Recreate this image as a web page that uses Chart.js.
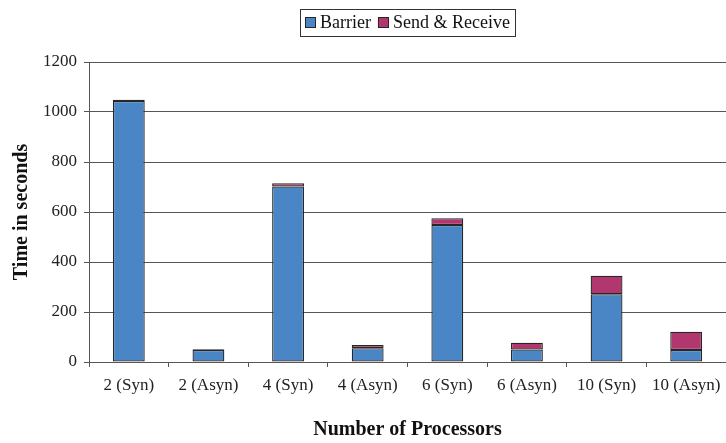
<!DOCTYPE html>
<html>
<head>
<meta charset="utf-8">
<script src="https://cdn.jsdelivr.net/npm/chart.js@4/dist/chart.umd.min.js"></script>
<style>
  html, body { margin: 0; padding: 0; background: #fff; }
  #c { display: block; }
</style>
</head>
<body>
<canvas id="c" width="726" height="443"></canvas>
<script>
// Run time per configuration, split into barrier wait and message passing
const categories = ['2 (Syn)', '2 (Asyn)', '4 (Syn)', '4 (Asyn)', '6 (Syn)', '6 (Asyn)', '10 (Syn)', '10 (Asyn)'];
const barrier = [1044, 48, 702, 55, 548, 50, 271, 48];
const sendReceive = [5, 3, 13, 13, 27, 27, 74, 73];
const yMin = 0, yMax = 1200, yStep = 200;

const SERIF = '"Liberation Serif", "Times New Roman", serif';
const LINE = '#555';
const EDGE = '#262626';

// Legend drawn inside a framed box, centred over the plot
const boxedLegend = {
  id: 'boxedLegend',
  afterDraw(chart) {
    const ctx = chart.ctx;
    ctx.save();
    ctx.font = '18px ' + SERIF;
    const items = chart.data.datasets.map(d => ({
      label: d.label, color: d.backgroundColor, w: ctx.measureText(d.label).width
    }));
    const box = 11, gap = 4, itemGap = 7, padX = 5, h = 27, top = 9;
    const total = padX * 2 + items.reduce((s, it) => s + box + gap + it.w, 0) + itemGap * (items.length - 1);
    const cx = (chart.chartArea.left + chart.chartArea.right) / 2;
    const x0 = Math.round(cx - total / 2);
    ctx.strokeStyle = '#333';
    ctx.lineWidth = 1;
    ctx.strokeRect(x0 + 0.5, top + 0.5, Math.round(total), h);
    const midY = top + h / 2 + 1;
    let x = x0 + padX;
    items.forEach(it => {
      const by = Math.round(midY - box / 2 - 1);
      ctx.fillStyle = it.color;
      ctx.fillRect(x, by, box, box);
      ctx.strokeStyle = EDGE;
      ctx.strokeRect(x + 0.5, by + 0.5, box - 1, box - 1);
      ctx.fillStyle = '#111';
      ctx.textBaseline = 'middle';
      ctx.textAlign = 'left';
      ctx.fillText(it.label, x + box + gap, midY);
      x += box + gap + it.w + itemGap;
    });
    ctx.restore();
  }
};

new Chart(document.getElementById('c'), {
  type: 'bar',
  data: {
    labels: categories,
    datasets: [
      { label: 'Barrier', data: barrier, backgroundColor: '#4a86c6', borderColor: EDGE, borderWidth: 1.3, borderSkipped: false, inflateAmount: 0 },
      { label: 'Send & Receive', data: sendReceive, backgroundColor: '#b3376f', borderColor: EDGE, borderWidth: 1.3, borderSkipped: false, inflateAmount: 0 }
    ]
  },
  options: {
    responsive: false,
    animation: false,
    devicePixelRatio: 1,
    layout: { padding: { top: 62, left: 0, right: 0, bottom: 0 } },
    datasets: { bar: { categoryPercentage: 1, barPercentage: 0.4 } },
    plugins: { legend: { display: false }, tooltip: { enabled: false } },
    scales: {
      x: {
        stacked: true,
        offset: true,
        grid: { display: true, drawOnChartArea: false, drawTicks: true, tickLength: 5, color: LINE, offset: true },
        border: { display: true, color: LINE, width: 1 },
        ticks: { color: '#222', font: { family: SERIF, size: 17 }, padding: 8, maxRotation: 0, autoSkip: false },
        title: { display: true, text: 'Number of Processors', color: '#111',
                 font: { family: SERIF, size: 20, weight: 'bold' }, padding: { top: 0, bottom: 1 } },
        afterFit(s) { s.height = 81; s.paddingLeft = 0; s.paddingRight = 0; }
      },
      y: {
        stacked: true,
        min: yMin, max: yMax,
        grid: { color: LINE, lineWidth: 1, drawTicks: true, tickLength: 5 },
        border: { display: true, color: LINE, width: 1 },
        ticks: { stepSize: yStep, color: '#222', font: { family: SERIF, size: 17 }, padding: 7,
                 callback: v => String(v) },
        title: { display: true, text: 'Time in seconds', color: '#111',
                 font: { family: SERIF, size: 20, weight: 'bold' }, padding: { top: 10, bottom: 0 } },
        afterFit(s) { s.width = 89; }
      }
    }
  },
  plugins: [boxedLegend]
});
</script>
</body>
</html>
